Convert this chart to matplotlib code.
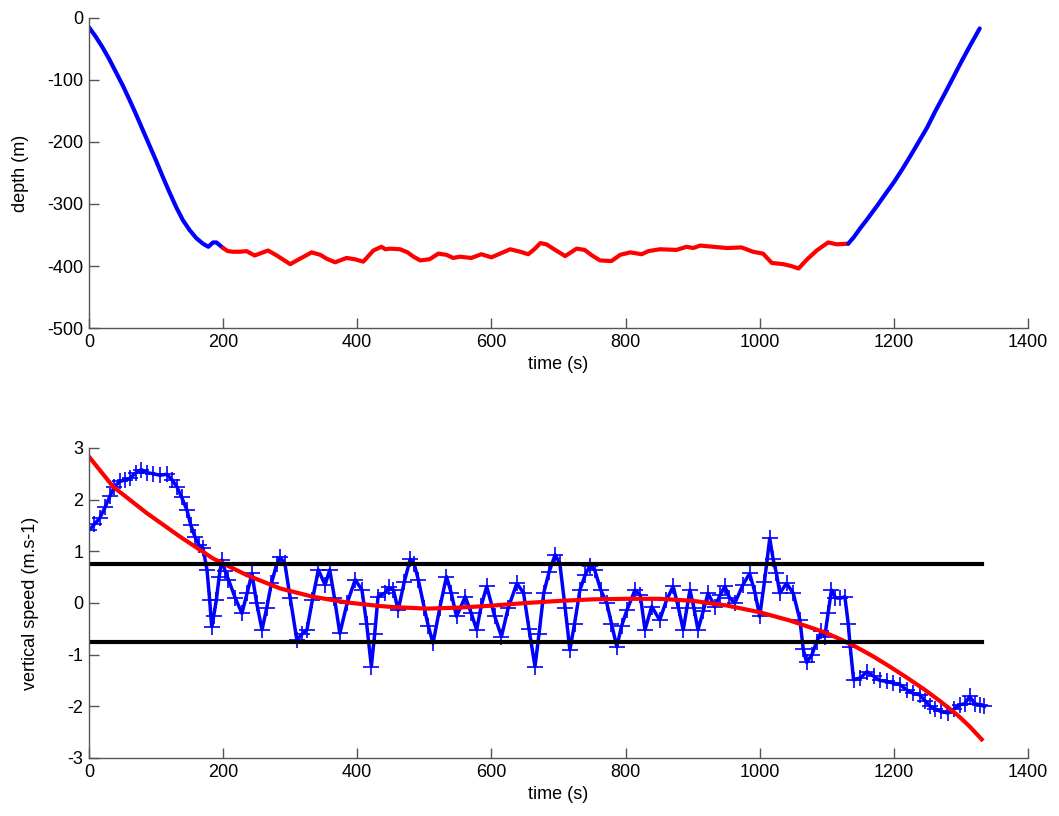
import matplotlib
matplotlib.use("Agg")
import matplotlib.pyplot as plt
import numpy as np

plt.rcParams['font.family'] = ['Liberation Sans', 'DejaVu Sans']
plt.rcParams['axes.unicode_minus'] = False

# ---- depth profile (top) ----
t_down = [0, 10, 20, 30, 40, 50, 60, 70, 80, 90, 100, 110, 120, 130, 140, 150, 160, 170, 178, 185, 190, 200]
d_down = [-15, -30, -47, -66, -87, -108, -131, -155, -180, -205, -230, -256, -281, -305, -326, -342, -355,
          -364, -369, -362, -362, -371]

t_bottom = [200, 207, 215, 225, 235, 247, 257, 267, 280, 290, 300, 315, 332, 345, 354, 367, 384, 396, 409,
            424, 436, 442, 449, 464, 475, 484, 494, 508, 521, 533, 543, 553, 570, 585, 600, 613, 628, 643,
            655, 665, 673, 682, 695, 710, 727, 739, 750, 762, 779, 792, 807, 824, 834, 851, 876, 891, 901,
            911, 931, 951, 973, 990, 1005, 1018, 1035, 1047, 1058, 1070, 1085, 1102, 1115, 1132]
d_bottom = [-371, -376, -377, -377, -376, -383, -379, -375, -383, -390, -397, -388, -378, -382, -388, -394,
            -387, -389, -393, -375, -369, -373, -372, -373, -378, -385, -391, -389, -380, -382, -387, -385,
            -387, -381, -386, -380, -373, -377, -381, -372, -363, -365, -374, -384, -372, -374, -383, -391,
            -392, -382, -378, -381, -376, -373, -374, -369, -371, -367, -369, -371, -370, -377, -380, -395,
            -397, -400, -404, -390, -375, -362, -365, -364]

t_up = [1132, 1140, 1150, 1160, 1175, 1190, 1200, 1212, 1225, 1237, 1250, 1262, 1275, 1288, 1300, 1314, 1328]
d_up = [-364, -354, -339, -325, -303, -280, -265, -245, -222, -200, -176, -150, -124, -97, -72, -44, -17]

# ---- vertical speed (bottom) ----
t_speed = [0, 8, 16, 24, 31, 38, 46, 54, 61, 70, 78, 87, 96, 106, 116, 124, 131, 138, 146, 152, 158, 164,
           170, 176, 180, 183, 186, 190, 194, 198, 203, 208, 218, 228, 236, 243, 250, 258, 265, 272, 280,
           285, 292, 300, 310, 318, 325, 333, 342, 352, 359, 366, 374, 385, 397, 407, 414, 421, 426, 431,
           441, 447, 454, 461, 470, 479, 485, 491, 500, 506, 513, 523, 533, 540, 548, 561, 570, 578, 585,
           593, 605, 615, 625, 638, 648, 656, 665, 671, 678, 686, 695, 702, 710, 717, 724, 732, 740, 747,
           754, 763, 772, 779, 787, 794, 802, 814, 822, 829, 839, 851, 861, 871, 879, 886, 896, 902, 908,
           916, 923, 933, 941, 948, 955, 963, 975, 985, 993, 1000, 1007, 1015, 1020, 1025, 1030, 1040,
           1050, 1060, 1065, 1070, 1078, 1085, 1092, 1097, 1102, 1107, 1113, 1120, 1127, 1132, 1135, 1140,
           1150, 1160, 1170, 1179, 1190, 1199, 1209, 1219, 1229, 1239, 1247, 1254, 1262, 1270, 1281, 1290,
           1299, 1306, 1313, 1321, 1328, 1335]
v_speed = [1.41, 1.52, 1.64, 1.85, 2.06, 2.25, 2.35, 2.38, 2.41, 2.52, 2.58, 2.52, 2.50, 2.47, 2.49, 2.38,
           2.25, 2.05, 1.80, 1.50, 1.28, 1.12, 1.06, 0.64, 0.05, -0.46, -0.25, 0.06, 0.50, 0.83, 0.62, 0.45,
           0.10, -0.20, 0.20, 0.57, 0.00, -0.52, -0.10, 0.38, 0.75, 0.88, 0.77, 0.10, -0.72, -0.60, -0.52,
           0.05, 0.64, 0.35, 0.64, 0.10, -0.59, 0.00, 0.45, 0.25, -0.40, -1.23, -0.60, 0.12, 0.19, 0.30,
           0.25, -0.14, 0.40, 0.85, 0.75, 0.45, -0.10, -0.45, -0.78, -0.10, 0.51, 0.20, -0.26, 0.12, -0.20,
           -0.52, -0.05, 0.32, -0.26, -0.65, -0.10, 0.38, 0.19, -0.50, -1.23, -0.60, 0.19, 0.60, 0.93, 0.77,
           -0.10, -0.91, -0.40, 0.25, 0.55, 0.72, 0.64, 0.25, 0.00, -0.40, -0.85, -0.45, -0.14, 0.25, 0.15,
           -0.52, -0.07, -0.33, 0.05, 0.32, -0.10, -0.52, 0.25, -0.10, -0.52, -0.15, 0.19, -0.07, 0.15, 0.32,
           0.10, 0.00, 0.35, 0.57, 0.20, -0.26, 0.40, 1.25, 0.85, 0.57, 0.19, 0.38, 0.19, -0.33, -0.90,
           -1.15, -1.00, -0.75, -0.55, -0.65, -0.20, 0.25, 0.10, 0.09, 0.12, -0.40, -0.85, -1.49, -1.45,
           -1.33, -1.42, -1.50, -1.52, -1.55, -1.58, -1.68, -1.75, -1.78, -1.90, -2.00, -2.05, -2.10, -2.13,
           -2.05, -1.97, -1.95, -1.81, -1.95, -1.97, -2.00]

# polynomial trend
t_fit = [0, 36, 86, 136, 185, 235, 285, 334, 384, 434, 454, 504, 553, 603, 653, 702, 752, 802, 851, 901,
         951, 1000, 1045, 1095, 1120, 1145, 1170, 1195, 1220, 1245, 1270, 1295, 1313, 1331]
v_fit = [2.83, 2.25, 1.74, 1.28, 0.86, 0.54, 0.28, 0.12, 0.01, -0.06, -0.08, -0.11, -0.09, -0.05, 0.00, 0.04,
         0.07, 0.08, 0.08, 0.04, -0.05, -0.18, -0.34, -0.56, -0.70, -0.86, -1.04, -1.24, -1.45, -1.67, -1.91,
         -2.17, -2.39, -2.64]

threshold = 0.75
t_thr = [0, 1331]

fig = plt.figure(figsize=(10.59, 8.16), dpi=100)
ax1 = fig.add_axes([0.084, 0.598, 0.8867, 0.380])
ax2 = fig.add_axes([0.084, 0.0711, 0.8867, 0.380])

ax1.plot(t_down, d_down, color='#0000ff', lw=3.0, solid_capstyle='round', solid_joinstyle='round')
ax1.plot(t_bottom, d_bottom, color='#ff0000', lw=3.0, solid_capstyle='round', solid_joinstyle='round')
ax1.plot(t_up, d_up, color='#0000ff', lw=3.0, solid_capstyle='round', solid_joinstyle='round')
ax1.set_xlim(0, 1400)
ax1.set_ylim(-500, 0)
ax1.set_xticks(np.arange(0, 1401, 200))
ax1.set_yticks(np.arange(-500, 1, 100))
ax1.set_xlabel('time (s)', fontsize=13)
ax1.set_ylabel('depth (m)', fontsize=13)
ax1.yaxis.set_label_coords(-0.0639, 0.5)

ax2.plot(t_speed, v_speed, color='#0000ff', lw=2.5, marker='+', ms=12, mew=1.2,
         solid_joinstyle='round')
ax2.plot(t_fit, v_fit, color='#ff0000', lw=3.0, solid_joinstyle='round')
ax2.plot(t_thr, [threshold, threshold], color='black', lw=3.0)
ax2.plot(t_thr, [-threshold, -threshold], color='black', lw=3.0)
ax2.set_xlim(0, 1400)
ax2.set_ylim(-3, 3)
ax2.set_xticks(np.arange(0, 1401, 200))
ax2.set_yticks(np.arange(-3, 4, 1))
ax2.set_xlabel('time (s)', fontsize=13)
ax2.set_ylabel('vertical speed (m.s-1)', fontsize=13)
ax2.yaxis.set_label_coords(-0.0532, 0.5)

for ax in (ax1, ax2):
    ax.spines['top'].set_visible(False)
    ax.spines['right'].set_visible(False)
    for s in ('left', 'bottom'):
        ax.spines[s].set_color('#555555')
        ax.spines[s].set_linewidth(1.0)
    ax.tick_params(direction='in', length=7, width=1.0, color='#555555', labelsize=13, pad=4)

fig.savefig('out.png', dpi=100)
